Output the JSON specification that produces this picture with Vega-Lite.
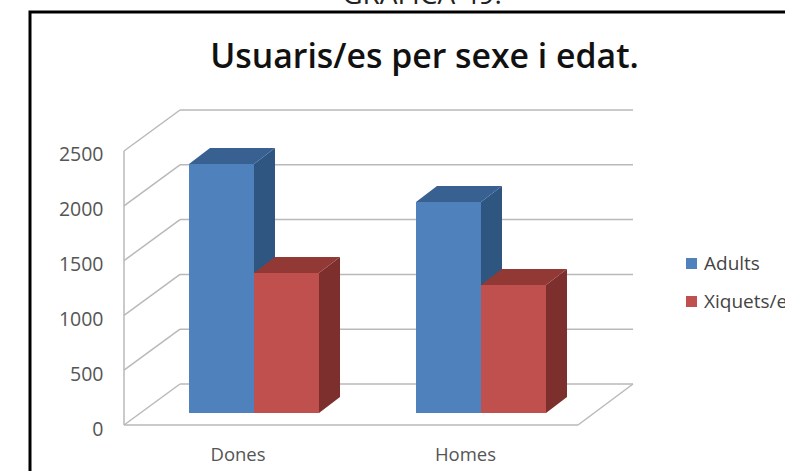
{
"$schema":"https://vega.github.io/schema/vega-lite/v6.json",
"width":785,"height":471,"padding":0,"autosize":{"type":"none"},
"background":"white",
"title":{"text":"Usuaris/es per sexe i edat.","anchor":"middle","frame":"group","dx":32,"dy":97,"font":"Open Sans","fontSize":33.8,"fontWeight":600,"color":"#111111"},
"config":{"view":{"stroke":null}},
"datasets":{
 "bars":[
  {"sexe":"Dones","grup":"Adults","usuaris":2272},
  {"sexe":"Dones","grup":"Xiquets/es","usuaris":1277},
  {"sexe":"Homes","grup":"Adults","usuaris":1925},
  {"sexe":"Homes","grup":"Xiquets/es","usuaris":1168}],
 "ticks":[{"v":0},{"v":500},{"v":1000},{"v":1500},{"v":2000},{"v":2500}]
},
"layer":[
 {"data":{"values":[{"t":"GRÀFICA 49.","x":422,"y":3843}]},
  "mark":{"type":"text","font":"Open Sans","fontSize":28,"color":"#222222","baseline":"alphabetic","align":"center"},
  "encoding":{"text":{"field":"t"},
   "x":{"field":"x","type":"quantitative","scale":{"domain":[0,785],"nice":false,"zero":false},
     "axis":{"orient":"bottom","offset":-26,"values":[237.5,465],"labelExpr":"datum.value<300?'Dones':'Homes'","domain":false,"ticks":false,"grid":false,"title":null,"labelPadding":0,"labelFont":"Open Sans","labelFontSize":18.5,"labelColor":"#555555"}},
   "y":{"field":"y","type":"quantitative","scale":{"domain":[-419.7,3877.7],"nice":false,"zero":false},
     "axis":{"orient":"left","offset":-103,"values":[0,500,1000,1500,2000,2500],"format":"d","domain":false,"ticks":false,"grid":false,"title":null,"labelPadding":0,"labelOffset":4,"labelFont":"Open Sans","labelFontSize":19.5,"labelColor":"#555555"}}}},
 {"data":{"values":[{"x":30,"x2":900,"y":3768,"y2":-700}]},
  "mark":{"type":"rect","fill":null,"stroke":"#000000","strokeWidth":3},
  "encoding":{"x":{"field":"x","type":"quantitative"},"x2":{"field":"x2"},"y":{"field":"y","type":"quantitative"},"y2":{"field":"y2"}}},
 {"data":{"name":"ticks"},"transform":[{"calculate":"180","as":"x"},{"calculate":"633","as":"x2"},{"calculate":"datum.v+374","as":"yb"}],
  "mark":{"type":"rule","color":"#b9b9b9","strokeWidth":1.5},
  "encoding":{"x":{"field":"x","type":"quantitative"},"x2":{"field":"x2"},"y":{"field":"yb","type":"quantitative"}}},
 {"data":{"name":"ticks"},"transform":[{"calculate":"124","as":"x"},{"calculate":"180","as":"x2"},{"calculate":"datum.v+374","as":"yb"}],
  "mark":{"type":"rule","color":"#b9b9b9","strokeWidth":1.5},
  "encoding":{"x":{"field":"x","type":"quantitative"},"x2":{"field":"x2"},"y":{"field":"v","type":"quantitative"},"y2":{"field":"yb"}}},
 {"data":{"values":[{"x":124,"x2":124,"y":0,"y2":2500},{"x":124,"x2":578,"y":0,"y2":0},{"x":578,"x2":633,"y":0,"y2":374}]},
  "mark":{"type":"rule","color":"#b9b9b9","strokeWidth":1.5},
  "encoding":{"x":{"field":"x","type":"quantitative"},"x2":{"field":"x2"},"y":{"field":"y","type":"quantitative"},"y2":{"field":"y2"}}},
 {"data":{"name":"bars"},
  "transform":[
   {"calculate":"(datum.sexe=='Dones'?189:416)+(datum.grup=='Adults'?65:130)","as":"xr"},
   {"calculate":"[0,1]","as":"t"},{"flatten":["t"]},
   {"calculate":"datum.xr+21*datum.t","as":"xs"},
   {"calculate":"datum.usuaris+109+146*datum.t","as":"ys"},
   {"calculate":"109+146*datum.t","as":"ys2"},
   {"calculate":"datum.sexe+datum.grup","as":"key"}],
  "mark":{"type":"area","interpolate":"linear"},
  "encoding":{"detail":{"field":"key"},
   "x":{"field":"xs","type":"quantitative"},"y":{"field":"ys","type":"quantitative"},"y2":{"field":"ys2"},
   "fill":{"field":"grup","type":"nominal","legend":null,"scale":{"domain":["Adults","Xiquets/es"],"range":["#2f5581","#7c2f2c"]}}}},
 {"data":{"name":"bars"},
  "transform":[
   {"calculate":"(datum.sexe=='Dones'?189:416)+(datum.grup=='Adults'?0:65)","as":"xl"},
   {"calculate":"[0,1]","as":"t"},{"flatten":["t"]},
   {"calculate":"datum.xl+21*datum.t","as":"xa"},
   {"calculate":"datum.xl+65+21*datum.t","as":"xb"},
   {"calculate":"datum.usuaris+109+146*datum.t","as":"ys"},
   {"calculate":"datum.sexe+datum.grup","as":"key"}],
  "mark":{"type":"area","orient":"horizontal","interpolate":"linear"},
  "encoding":{"detail":{"field":"key"},
   "y":{"field":"ys","type":"quantitative"},"x":{"field":"xa","type":"quantitative"},"x2":{"field":"xb"},
   "fill":{"field":"grup","type":"nominal","legend":null,"scale":{"domain":["Adults","Xiquets/es"],"range":["#386192","#933935"]}}}},
 {"data":{"name":"bars"},
  "transform":[
   {"calculate":"(datum.sexe=='Dones'?189:416)+(datum.grup=='Adults'?0:65)","as":"xl"},
   {"calculate":"datum.xl+65","as":"xr"},
   {"calculate":"datum.usuaris+109","as":"yt"},
   {"calculate":"109","as":"yb"}],
  "mark":{"type":"rect"},
  "encoding":{
   "x":{"field":"xl","type":"quantitative"},"x2":{"field":"xr"},"y":{"field":"yt","type":"quantitative"},"y2":{"field":"yb"},
   "color":{"field":"grup","type":"nominal","scale":{"domain":["Adults","Xiquets/es"],"range":["#4f81bd","#c0504d"]},
    "legend":{"orient":"none","legendX":682,"legendY":254,"title":null,"symbolType":"square","symbolSize":121,"symbolStrokeWidth":0,"labelFont":"Open Sans","labelFontSize":19,"labelColor":"#444444","rowPadding":18,"labelOffset":3,"labelLimit":200}}}}
],
"resolve":{"scale":{"fill":"independent"}}
}
